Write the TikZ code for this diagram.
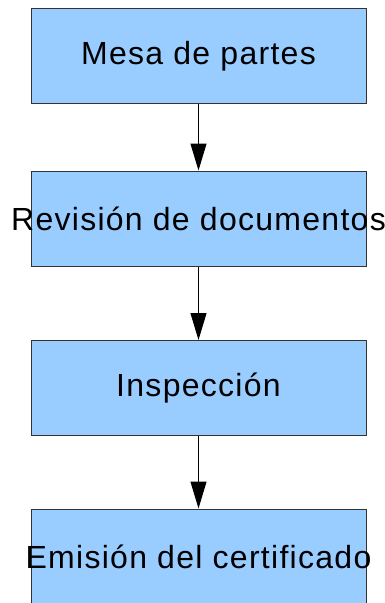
\documentclass[tikz,border=0pt]{standalone}
\usepackage{fontspec}
\setmainfont{Liberation Sans}[LetterSpace=4]
\usetikzlibrary{arrows.meta}
\definecolor{boxblue}{HTML}{99CCFF}
\definecolor{boxline}{HTML}{333333}
\begin{document}
\begin{tikzpicture}[x=1pt,y=-1pt,
  procbox/.style={draw=boxline,line width=1pt,fill=boxblue,minimum width=335pt,minimum height=95pt,inner sep=0pt,font=\fontsize{32}{36}\selectfont},
  flow/.style={line width=1pt,-{Triangle[length=27pt,width=16pt]}}]
\useasboundingbox (0,0) rectangle (385,603);
\node[procbox] (a) at (198.5,56) {\makebox[0pt]{Mesa de partes}};
\node[procbox] (b) at (198.5,218.5) {\makebox[0pt]{Revisión de documentos}};
\node[procbox] (c) at (198.5,388) {\makebox[0pt]{Inspección}};
\node[procbox] (d) at (198.5,556.5) {\makebox[0pt]{Emisión del certificado}};
\draw[flow] (a) -- (b);
\draw[flow] (b) -- (c);
\draw[flow] (c) -- (d);
\end{tikzpicture}
\end{document}
